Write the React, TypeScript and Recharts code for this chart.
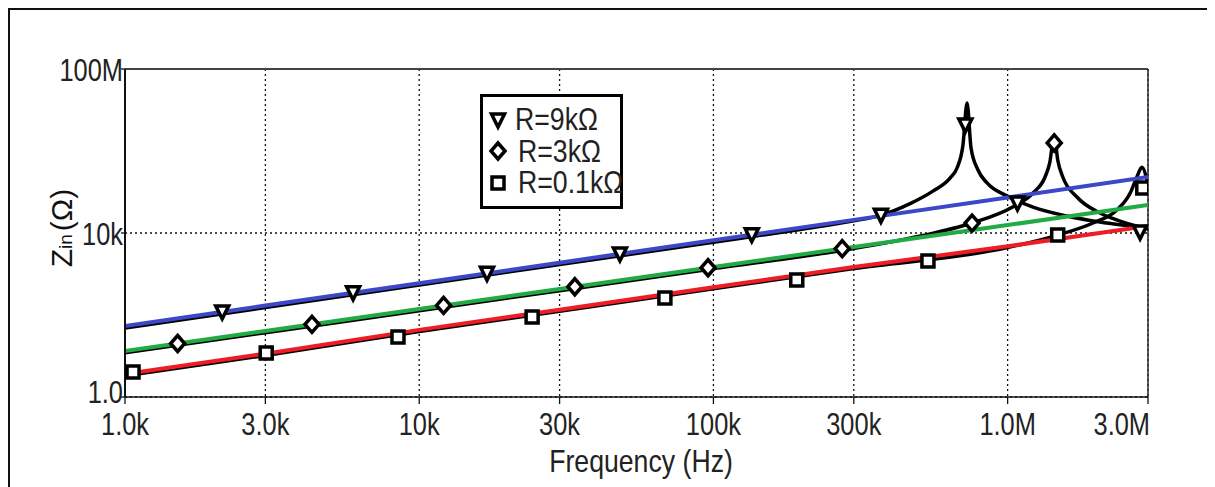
import React from "react";
import {
  CartesianGrid,
  ComposedChart,
  Legend,
  Line,
  ReferenceLine,
  Scatter,
  XAxis,
  YAxis,
} from "recharts";

const SANS = "'Liberation Sans', Arial, sans-serif";
const SQUEEZE = 0.82; // the original uses a narrow face
const SQUEEZE_WIDE = 0.86;

const freqTicks = [1e3, 3e3, 1e4, 3e4, 1e5, 3e5, 1e6, 3e6];
const freqTickLabels = ["1.0k", "3.0k", "10k", "30k", "100k", "300k", "1.0M", "3.0M"];
const zTicks = [1, 1e4, 1e8];
const zTickLabels = ["1.0", "10k", "100M"];

const seriesNames = ["R=9kΩ", "R=3kΩ", "R=0.1kΩ"];
const markerKinds = ["triangle", "diamond", "square"];

// coloured (reference) curves
const blueLine = [
  { f: 1e3, z: 54 }, { f: 3e3, z: 170 }, { f: 1e4, z: 598 }, { f: 3e4, z: 1890 },
  { f: 1e5, z: 6640 }, { f: 3e5, z: 20900 }, { f: 1e6, z: 73600 }, { f: 3e6, z: 232000 },
];
const greenLine = [
  { f: 1e3, z: 13.2 }, { f: 3e3, z: 40.8 }, { f: 1e4, z: 140 }, { f: 3e4, z: 431 },
  { f: 1e5, z: 1480 }, { f: 3e5, z: 4560 }, { f: 1e6, z: 15600 }, { f: 3e6, z: 48200 },
];
const redLine = [
  { f: 1e3, z: 3.64 }, { f: 3e3, z: 11.4 }, { f: 1e4, z: 43.4 }, { f: 3e4, z: 135 },
  { f: 1e5, z: 473 }, { f: 3e5, z: 1480 }, { f: 1e6, z: 4730 }, { f: 3e6, z: 14800 },
];

// simulated curves (black)
const sim9k = [
  { f: 1e3, z: 48 }, { f: 3e3, z: 152 }, { f: 1e4, z: 540 }, { f: 3e4, z: 1700 },
  { f: 1e5, z: 5950 }, { f: 2e5, z: 12400 }, { f: 3e5, z: 19800 }, { f: 3.7e5, z: 27000 },
  { f: 4.66e5, z: 52000 }, { f: 5.57e5, z: 105000 }, { f: 6.37e5, z: 219000 },
  { f: 6.73e5, z: 385000 }, { f: 7.05e5, z: 1.4e6 }, { f: 7.28e5, z: 1.48e7 },
  { f: 7.51e5, z: 1.18e6 }, { f: 7.93e5, z: 344000 }, { f: 8.51e5, z: 166000 },
  { f: 9.95e5, z: 80000 }, { f: 1.22e6, z: 43000 }, { f: 1.59e6, z: 26000 },
  { f: 2.06e6, z: 18500 }, { f: 3e6, z: 13200 },
];
const sim3k = [
  { f: 1e3, z: 12 }, { f: 3e3, z: 37 }, { f: 1e4, z: 127 }, { f: 3e4, z: 392 },
  { f: 1e5, z: 1340 }, { f: 3e5, z: 4200 }, { f: 5e5, z: 8300 }, { f: 7.57e5, z: 17500 },
  { f: 1.04e6, z: 43000 }, { f: 1.22e6, z: 94600 }, { f: 1.34e6, z: 232000 },
  { f: 1.39e6, z: 510000 }, { f: 1.44e6, z: 2.45e6 }, { f: 1.48e6, z: 603000 },
  { f: 1.54e6, z: 232000 }, { f: 1.72e6, z: 75500 }, { f: 2.06e6, z: 30700 },
  { f: 2.47e6, z: 18500 }, { f: 3e6, z: 12500 },
];
const sim01k = [
  { f: 1e3, z: 3.3 }, { f: 3e3, z: 10.3 }, { f: 1e4, z: 39.5 }, { f: 3e4, z: 123 },
  { f: 1e5, z: 435 }, { f: 3e5, z: 1360 }, { f: 1e6, z: 4400 }, { f: 1.48e6, z: 8900 },
  { f: 1.95e6, z: 17500 }, { f: 2.35e6, z: 36400 }, { f: 2.61e6, z: 94600 },
  { f: 2.75e6, z: 232000 }, { f: 2.86e6, z: 400000 }, { f: 3e6, z: 150000 },
];

// markers sitting on the simulated curves
const marks9k = [
  { f: 2.14e3, z: 119 }, { f: 5.96e3, z: 348 }, { f: 1.7e4, z: 1040 }, { f: 4.81e4, z: 3090 },
  { f: 1.35e5, z: 9100 }, { f: 3.71e5, z: 27000 }, { f: 7.18e5, z: 4.31e6 },
  { f: 1.08e6, z: 54000 }, { f: 2.82e6, z: 10600 },
];
const marks3k = [
  { f: 1.51e3, z: 20.2 }, { f: 4.32e3, z: 59.3 }, { f: 1.21e4, z: 171 }, { f: 3.38e4, z: 488 },
  { f: 9.59e4, z: 1420 }, { f: 2.74e5, z: 4150 }, { f: 7.57e5, z: 17500 }, { f: 1.44e6, z: 1.57e6 },
];
const marks01k = [
  { f: 1.065e3, z: 4.07 }, { f: 3.02e3, z: 11.8 }, { f: 8.47e3, z: 29.1 }, { f: 2.42e4, z: 89.4 },
  { f: 6.84e4, z: 260 }, { f: 1.92e5, z: 714 }, { f: 5.36e5, z: 2070 }, { f: 1.48e6, z: 8940 },
  { f: 2.88e6, z: 125000 },
];

function markerPath(kind: string, cx: number, cy: number) {
  if (kind === "triangle") return `M${cx - 6.5},${cy - 6} L${cx + 6.5},${cy - 6} L${cx},${cy + 7} Z`;
  if (kind === "diamond") return `M${cx},${cy - 8} L${cx + 7},${cy} L${cx},${cy + 8} L${cx - 7},${cy} Z`;
  return `M${cx - 6},${cy - 6} L${cx + 6},${cy - 6} L${cx + 6},${cy + 6} L${cx - 6},${cy + 6} Z`;
}

const makeShape = (kind: string) => (props: any) => {
  const { cx, cy } = props;
  if (cx == null || cy == null) return null;
  return <path d={markerPath(kind, cx, cy)} fill="#fff" stroke="#000" strokeWidth={3.5} />;
};

// narrow-looking text: Liberation Sans squeezed horizontally
const NarrowText = ({ x, y, anchor, size, squeeze = SQUEEZE, children }: any) => (
  <text transform={`translate(${x},${y}) scale(${squeeze},1)`} textAnchor={anchor}
    fontSize={size} fontFamily={SANS} fill="#222">
    {children}
  </text>
);

const XTick = (props: any) => {
  const { x, y, payload } = props;
  const i = freqTicks.indexOf(payload.value);
  const last = i === freqTicks.length - 1;
  return (
    <NarrowText x={last ? x + 2 : x} y={y + 29} anchor={last ? "end" : "middle"} size={31}>
      {freqTickLabels[i]}
    </NarrowText>
  );
};

const YTick = (props: any) => {
  const { x, y, payload } = props;
  const i = zTicks.indexOf(payload.value);
  return (
    <NarrowText x={x + 2} y={y + (i === 0 ? 6 : 12)} anchor="end" size={31}>
      {zTickLabels[i]}
    </NarrowText>
  );
};

const YLabel = () => (
  <text transform="translate(62, 218) rotate(-90)" textAnchor="middle"
    fontSize={30} fontFamily={SANS} fill="#111">
    Z<tspan fontSize={19}>in</tspan>
    <tspan dx={3}>(Ω)</tspan>
  </text>
);

const XLabel = () => (
  <NarrowText x={631} y={462} anchor="middle" size={31} squeeze={SQUEEZE_WIDE}>
    Frequency (Hz)
  </NarrowText>
);

const LegendBox = () => (
  <div
    style={{
      boxSizing: "border-box",
      width: 143,
      height: 115,
      border: "3px solid #000",
      background: "#fff",
      paddingTop: 7,
    }}
  >
    {seriesNames.map((name, i) => (
      <div key={name} style={{ display: "flex", alignItems: "center", height: 31.5 }}>
        <svg width={32} height={24} style={{ flex: "none" }}>
          <path d={markerPath(markerKinds[i], 15, 12)} fill="#fff" stroke="#000" strokeWidth={3.5} />
        </svg>
        <span
          style={{
            display: "inline-block",
            fontFamily: SANS,
            fontSize: 31,
            color: "#222",
            lineHeight: "31px",
            marginLeft: i === 0 ? 0 : 3,
            whiteSpace: "nowrap",
            transform: `scaleX(${SQUEEZE_WIDE})`,
            transformOrigin: "left center",
          }}
        >
          {name}
        </span>
      </div>
    ))}
  </div>
);

export default function App() {
  return (
    <div
      style={{
        width: 1207,
        height: 479,
        boxSizing: "border-box",
        borderTop: "2px solid #111",
        borderLeft: "2px solid #111",
        background: "#fff",
      }}
    >
      <ComposedChart width={1205} height={477} margin={{ top: 59, right: 67, left: 0, bottom: 0 }}>
        <CartesianGrid stroke="#111" strokeWidth={1.3} strokeDasharray="2 3" />
        <XAxis
          dataKey="f"
          type="number"
          scale="log"
          domain={[1e3, 3e6]}
          allowDataOverflow
          ticks={freqTicks}
          interval={0}
          height={90}
          tickSize={7}
          tickMargin={2}
          tick={<XTick />}
          axisLine={{ stroke: "#111", strokeWidth: 1.6 }}
          tickLine={{ stroke: "#111", strokeWidth: 1.3 }}
          label={<XLabel />}
        />
        <YAxis
          dataKey="z"
          type="number"
          scale="log"
          domain={[1, 1e8]}
          allowDataOverflow
          ticks={zTicks}
          interval={0}
          width={115}
          tickSize={4}
          tickMargin={0}
          tick={<YTick />}
          axisLine={{ stroke: "#111", strokeWidth: 2 }}
          tickLine={{ stroke: "#111", strokeWidth: 1.3 }}
          label={<YLabel />}
        />
        <ReferenceLine y={1e8} stroke="#444" strokeWidth={2.2} />
        <ReferenceLine x={3e6} stroke="#333" strokeWidth={1.6} />

        <Line data={sim9k} dataKey="z" type="monotone" stroke="#000" strokeWidth={3.5} dot={false} isAnimationActive={false} />
        <Line data={sim3k} dataKey="z" type="monotone" stroke="#000" strokeWidth={3.5} dot={false} isAnimationActive={false} />
        <Line data={sim01k} dataKey="z" type="monotone" stroke="#000" strokeWidth={3.5} dot={false} isAnimationActive={false} />

        <Scatter data={marks9k} name={seriesNames[0]} shape={makeShape("triangle")} isAnimationActive={false} />
        <Scatter data={marks3k} name={seriesNames[1]} shape={makeShape("diamond")} isAnimationActive={false} />
        <Scatter data={marks01k} name={seriesNames[2]} shape={makeShape("square")} isAnimationActive={false} />

        <Line data={blueLine} dataKey="z" type="linear" stroke="#3c48c8" strokeWidth={4} dot={false} isAnimationActive={false} />
        <Line data={greenLine} dataKey="z" type="linear" stroke="#22aa44" strokeWidth={4} dot={false} isAnimationActive={false} />
        <Line data={redLine} dataKey="z" type="linear" stroke="#ee1c24" strokeWidth={4} dot={false} isAnimationActive={false} />

        <Legend
          layout="vertical"
          align="center"
          verticalAlign="middle"
          content={<LegendBox />}
          wrapperStyle={{ left: 470, top: 84, width: 143, height: 115 }}
        />
      </ComposedChart>
    </div>
  );
}
